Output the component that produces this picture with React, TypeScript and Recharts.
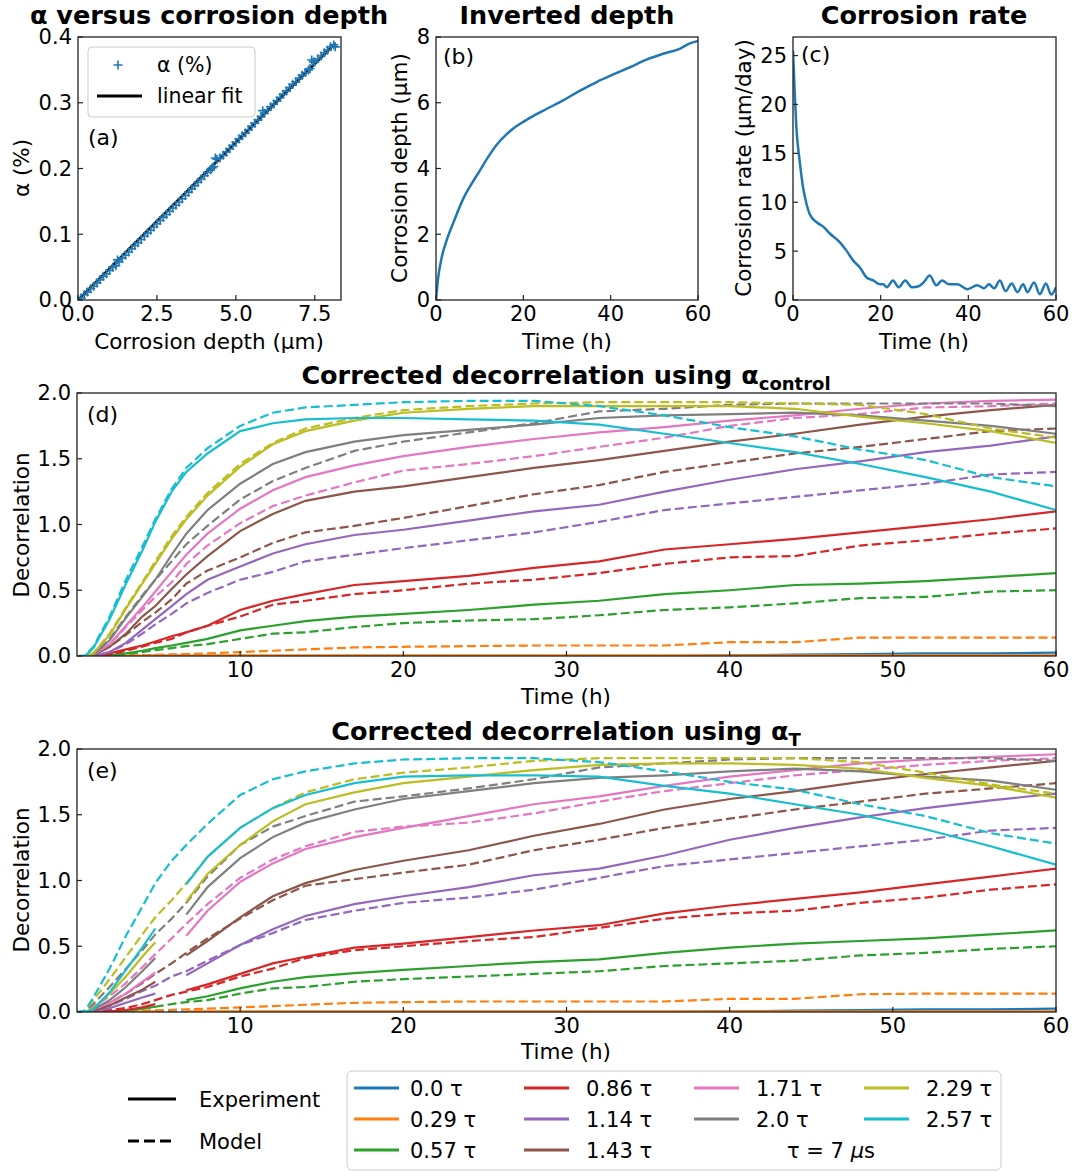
import React from "react";
import { ComposedChart, LineChart, Line, Scatter, XAxis, YAxis } from "recharts";

const FONT = '"DejaVu Sans", sans-serif';
const BLUE = "#1f77b4";
const FRAME = "#222";

const tauColors = ["#1f77b4", "#ff7f0e", "#2ca02c", "#d62728", "#9467bd", "#8c564b", "#e377c2", "#7f7f7f", "#bcbd22", "#17becf"];
const tauLabels = ["0.0 τ", "0.29 τ", "0.57 τ", "0.86 τ", "1.14 τ", "1.43 τ", "1.71 τ", "2.0 τ", "2.29 τ", "2.57 τ"];

// (a) alpha vs corrosion depth
const alphaDepth = [
  0.0, 0.1, 0.2, 0.3, 0.4, 0.5, 0.6, 0.7, 0.8, 0.9,
  1.0, 1.1, 1.2, 1.25, 1.3, 1.4, 1.5, 1.6, 1.7, 1.8,
  1.9, 2.0, 2.1, 2.2, 2.3, 2.4, 2.5, 2.6, 2.7, 2.8,
  2.9, 3.0, 3.1, 3.2, 3.3, 3.4, 3.5, 3.6, 3.7, 3.8,
  3.9, 4.0, 4.1, 4.2, 4.25, 4.3, 4.35, 4.4, 4.5, 4.6,
  4.7, 4.8, 4.9, 5.0, 5.1, 5.2, 5.3, 5.4, 5.5, 5.6,
  5.7, 5.8, 5.85, 5.9, 6.0, 6.1, 6.2, 6.3, 6.4, 6.5,
  6.6, 6.7, 6.8, 6.9, 7.0, 7.1, 7.2, 7.3, 7.35, 7.4,
  7.45, 7.5, 7.6, 7.7, 7.8, 7.9, 8.0, 8.1, 8.15,
];
const alphaPct = [
  0.0, 0.003, 0.008, 0.012, 0.017, 0.021, 0.026, 0.031, 0.036, 0.04,
  0.045, 0.05, 0.052, 0.061, 0.058, 0.064, 0.068, 0.073, 0.078, 0.083,
  0.087, 0.092, 0.097, 0.102, 0.106, 0.111, 0.116, 0.121, 0.126, 0.13,
  0.135, 0.14, 0.144, 0.149, 0.154, 0.159, 0.164, 0.169, 0.174, 0.179,
  0.184, 0.189, 0.194, 0.198, 0.201, 0.203, 0.216, 0.214, 0.216, 0.22,
  0.225, 0.23, 0.235, 0.24, 0.245, 0.25, 0.254, 0.259, 0.264, 0.269,
  0.274, 0.279, 0.288, 0.284, 0.289, 0.294, 0.298, 0.303, 0.308, 0.313,
  0.318, 0.323, 0.328, 0.332, 0.337, 0.342, 0.346, 0.35, 0.352, 0.365,
  0.362, 0.362, 0.367, 0.371, 0.376, 0.38, 0.385, 0.388, 0.385,
];
const fitDepth = [0, 8.14];
const fitAlpha = [0, 0.39];

// (b) inverted depth
const depthTime = [0, 0.5, 1.3, 2.4, 4, 6.3, 8, 10, 12, 13.9, 16, 17.7, 20, 21.5, 25.3, 29.1, 33, 36.8, 40.6, 44.4, 48.2, 52, 55.8, 58, 60];
const depthUm = [0, 0.68, 1.29, 1.8, 2.36, 3.1, 3.5, 3.93, 4.36, 4.72, 5.02, 5.22, 5.42, 5.54, 5.81, 6.07, 6.37, 6.63, 6.86, 7.08, 7.31, 7.49, 7.64, 7.8, 7.88];

// (c) corrosion rate
const rateTime = [0, 0.4, 0.76, 1.5, 2.3, 3.1, 3.8, 5.4, 6.9, 8.4, 10.7, 12.2, 13.8, 15.3, 16.8, 18.3, 19.9, 20.6, 21.4, 22.8, 24.1, 25.6, 27.1, 28.7, 29.8, 31.2, 32.7, 34, 35.6, 37.5, 39.8, 42, 43.6, 44.7, 45.9, 47.2, 48.5, 49.9, 51.2, 52.5, 53.5, 55, 56.3, 57.7, 58.9, 60];
const rateUmDay = [25.5, 21.1, 17.7, 14.3, 11.5, 9.8, 8.8, 7.95, 7.5, 6.8, 5.9, 5.05, 4.0, 3.3, 2.3, 2.0, 1.6, 1.6, 1.3, 2.0, 1.3, 2.0, 1.3, 1.4, 1.8, 2.5, 1.5, 2.0, 1.6, 1.6, 1.1, 1.5, 1.2, 1.6, 1.2, 2.0, 0.9, 1.7, 0.8, 1.6, 0.8, 1.8, 0.6, 1.7, 0.55, 1.3];

// (d)/(e) decorrelation, one array per tau (order of tauLabels)
const hours = [0, 0.5, 1, 2, 3, 4, 4.8, 5.8, 6.7, 8, 10, 12, 14, 17, 20, 24, 28, 32, 36, 40, 44, 48, 52, 56, 60];

const ctrlExp = [
  [0, 0, 0, 0, 0, 0, 0, 0, 0, 0, 0, 0, 0, 0, 0, 0, 0, 0, 0, 0.005, 0.01, 0.015, 0.02, 0.02, 0.025],
  [0, 0, 0, 0.002, 0.003, 0.003, 0.004, 0.004, 0.004, 0.004, 0.004, 0.004, 0.004, 0.004, 0.004, 0.004, 0.004, 0.004, 0.004, 0.004, 0.004, 0.004, 0.004, 0.004, 0.004],
  [0, 0, 0, 0.005, 0.02, 0.04, 0.06, 0.08, 0.1, 0.13, 0.195, 0.23, 0.265, 0.3, 0.32, 0.35, 0.39, 0.42, 0.47, 0.5, 0.54, 0.55, 0.57, 0.6, 0.63],
  [0, 0, 0, 0.02, 0.05, 0.08, 0.11, 0.15, 0.18, 0.23, 0.35, 0.42, 0.47, 0.54, 0.57, 0.61, 0.67, 0.72, 0.81, 0.85, 0.89, 0.94, 0.99, 1.04, 1.1],
  [0, 0, 0, 0.03, 0.1, 0.2, 0.28, 0.38, 0.47, 0.58, 0.68, 0.78, 0.85, 0.92, 0.96, 1.03, 1.1, 1.15, 1.25, 1.34, 1.42, 1.48, 1.55, 1.6, 1.67],
  [0, 0, 0.005, 0.07, 0.17, 0.3, 0.38, 0.51, 0.62, 0.76, 0.95, 1.08, 1.18, 1.25, 1.29, 1.36, 1.43, 1.49, 1.56, 1.63, 1.69, 1.76, 1.82, 1.87, 1.91],
  [0, 0, 0.01, 0.09, 0.23, 0.37, 0.49, 0.64, 0.77, 0.93, 1.12, 1.26, 1.36, 1.45, 1.52, 1.59, 1.65, 1.7, 1.74, 1.79, 1.83, 1.88, 1.92, 1.94, 1.95],
  [0, 0, 0.01, 0.12, 0.29, 0.45, 0.58, 0.77, 0.93, 1.11, 1.31, 1.46, 1.55, 1.63, 1.68, 1.72, 1.76, 1.81, 1.83, 1.84, 1.85, 1.83, 1.79, 1.75, 1.69],
  [0, 0, 0.02, 0.16, 0.36, 0.55, 0.7, 0.89, 1.04, 1.22, 1.44, 1.61, 1.71, 1.79, 1.85, 1.88, 1.9, 1.9, 1.9, 1.9, 1.88, 1.82, 1.77, 1.71, 1.62],
  [0, 0, 0.06, 0.28, 0.55, 0.8, 1.02, 1.25, 1.4, 1.54, 1.71, 1.77, 1.8, 1.81, 1.81, 1.8, 1.79, 1.76, 1.69, 1.62, 1.55, 1.46, 1.36, 1.25, 1.11],
];

const ctrlModel = [
  [0, 0, 0, 0, 0, 0, 0, 0, 0, 0, 0, 0, 0, 0, 0, 0, 0, 0, 0, 0, 0, 0, 0, 0, 0],
  [0, 0, 0, 0, 0.003, 0.005, 0.008, 0.012, 0.015, 0.02, 0.03, 0.04, 0.05, 0.065, 0.07, 0.075, 0.08, 0.08, 0.08, 0.105, 0.105, 0.14, 0.14, 0.14, 0.14],
  [0, 0, 0, 0.005, 0.015, 0.03, 0.045, 0.06, 0.075, 0.09, 0.13, 0.17, 0.18, 0.22, 0.25, 0.27, 0.28, 0.31, 0.35, 0.37, 0.4, 0.44, 0.45, 0.49, 0.5],
  [0, 0, 0, 0.01, 0.04, 0.07, 0.1, 0.13, 0.18, 0.23, 0.3, 0.39, 0.42, 0.47, 0.5, 0.55, 0.58, 0.63, 0.7, 0.75, 0.76, 0.84, 0.88, 0.93, 0.97],
  [0, 0, 0, 0.03, 0.09, 0.17, 0.24, 0.32, 0.4, 0.48, 0.58, 0.64, 0.72, 0.77, 0.82, 0.88, 0.94, 1.02, 1.11, 1.16, 1.21, 1.26, 1.31, 1.38, 1.4],
  [0, 0, 0.005, 0.07, 0.16, 0.26, 0.33, 0.43, 0.55, 0.65, 0.75, 0.86, 0.94, 0.99, 1.05, 1.14, 1.23, 1.3, 1.4, 1.47, 1.54, 1.59, 1.65, 1.71, 1.73],
  [0, 0, 0.01, 0.09, 0.22, 0.35, 0.45, 0.56, 0.7, 0.84, 1.01, 1.14, 1.22, 1.32, 1.41, 1.46, 1.52, 1.59, 1.66, 1.75, 1.81, 1.84, 1.89, 1.9, 1.92],
  [0, 0, 0.01, 0.13, 0.3, 0.46, 0.58, 0.72, 0.85, 0.99, 1.19, 1.33, 1.43, 1.56, 1.63, 1.7, 1.77, 1.86, 1.88, 1.91, 1.92, 1.92, 1.92, 1.92, 1.9],
  [0, 0, 0.02, 0.17, 0.37, 0.56, 0.72, 0.91, 1.06, 1.24, 1.46, 1.62, 1.73, 1.81, 1.87, 1.9, 1.92, 1.93, 1.93, 1.93, 1.92, 1.91, 1.84, 1.73, 1.66],
  [0, 0.005, 0.07, 0.3, 0.58, 0.83, 1.04, 1.27, 1.43, 1.58, 1.75, 1.85, 1.89, 1.91, 1.93, 1.94, 1.94, 1.9, 1.83, 1.74, 1.67, 1.57, 1.49, 1.36, 1.29],
];

// experiment has a gap around 5.8 h when alpha_T is used
const alphaTExp = [
  [0, 0, 0, 0, 0, 0, 0, null, 0, 0, 0, 0, 0, 0, 0, 0, 0, 0, 0, 0.005, 0.01, 0.015, 0.02, 0.02, 0.025],
  [0, 0, 0, 0.002, 0.003, 0.003, 0.004, null, 0.004, 0.004, 0.004, 0.004, 0.004, 0.004, 0.004, 0.004, 0.004, 0.004, 0.004, 0.004, 0.004, 0.004, 0.004, 0.004, 0.004],
  [0, 0, 0, 0.003, 0.01, 0.025, 0.04, null, 0.09, 0.12, 0.18, 0.23, 0.265, 0.295, 0.32, 0.35, 0.38, 0.4, 0.45, 0.49, 0.52, 0.54, 0.56, 0.59, 0.62],
  [0, 0, 0, 0.005, 0.015, 0.035, 0.06, null, 0.165, 0.21, 0.29, 0.37, 0.42, 0.49, 0.52, 0.57, 0.62, 0.66, 0.75, 0.81, 0.86, 0.91, 0.97, 1.03, 1.09],
  [0, 0, 0.01, 0.03, 0.07, 0.11, 0.14, null, 0.28, 0.37, 0.51, 0.63, 0.73, 0.82, 0.88, 0.95, 1.04, 1.09, 1.19, 1.31, 1.4, 1.48, 1.55, 1.61, 1.66],
  [0, 0, 0.01, 0.05, 0.11, 0.17, 0.23, null, 0.43, 0.54, 0.72, 0.88, 0.98, 1.08, 1.15, 1.23, 1.34, 1.43, 1.54, 1.62, 1.68, 1.75, 1.81, 1.86, 1.91],
  [0, 0, 0.02, 0.07, 0.14, 0.23, 0.3, null, 0.58, 0.77, 0.99, 1.13, 1.24, 1.33, 1.4, 1.49, 1.58, 1.64, 1.72, 1.79, 1.84, 1.89, 1.92, 1.94, 1.96],
  [0, 0, 0.02, 0.09, 0.19, 0.31, 0.41, null, 0.74, 0.95, 1.17, 1.33, 1.44, 1.54, 1.62, 1.68, 1.74, 1.78, 1.8, 1.83, 1.85, 1.83, 1.79, 1.76, 1.69],
  [0, 0, 0.03, 0.14, 0.27, 0.42, 0.53, null, 0.84, 1.05, 1.27, 1.45, 1.58, 1.67, 1.74, 1.79, 1.84, 1.88, 1.89, 1.89, 1.88, 1.85, 1.78, 1.72, 1.63],
  [0, 0, 0.02, 0.15, 0.32, 0.49, 0.635, null, 0.97, 1.18, 1.4, 1.55, 1.65, 1.74, 1.79, 1.8, 1.8, 1.79, 1.72, 1.66, 1.58, 1.5, 1.39, 1.26, 1.12],
];

const alphaTModel = [
  [0, 0, 0, 0, 0, 0, 0, 0, 0, 0, 0, 0, 0, 0, 0, 0, 0, 0, 0, 0, 0, 0, 0, 0, 0],
  [0, 0, 0.002, 0.005, 0.008, 0.01, 0.013, 0.016, 0.02, 0.025, 0.035, 0.045, 0.055, 0.07, 0.075, 0.08, 0.08, 0.08, 0.08, 0.1, 0.1, 0.135, 0.14, 0.14, 0.14],
  [0, 0, 0, 0.005, 0.015, 0.03, 0.04, 0.06, 0.075, 0.09, 0.14, 0.18, 0.19, 0.23, 0.25, 0.27, 0.29, 0.31, 0.35, 0.37, 0.39, 0.43, 0.45, 0.48, 0.5],
  [0, 0, 0.003, 0.015, 0.03, 0.06, 0.09, 0.13, 0.155, 0.19, 0.27, 0.33, 0.41, 0.47, 0.5, 0.54, 0.57, 0.64, 0.71, 0.75, 0.77, 0.83, 0.87, 0.93, 0.97],
  [0, 0, 0.01, 0.05, 0.1, 0.16, 0.2, 0.27, 0.31, 0.39, 0.51, 0.6, 0.7, 0.77, 0.83, 0.87, 0.93, 1.02, 1.11, 1.16, 1.21, 1.26, 1.31, 1.38, 1.4],
  [0, 0, 0.02, 0.07, 0.14, 0.22, 0.29, 0.37, 0.45, 0.56, 0.71, 0.85, 0.96, 1.01, 1.06, 1.12, 1.23, 1.31, 1.4, 1.47, 1.54, 1.6, 1.66, 1.7, 1.74],
  [0, 0, 0.04, 0.12, 0.22, 0.34, 0.44, 0.56, 0.67, 0.82, 1.02, 1.16, 1.26, 1.37, 1.41, 1.44, 1.51, 1.6, 1.68, 1.74, 1.8, 1.84, 1.88, 1.91, 1.93],
  [0, 0.005, 0.06, 0.19, 0.33, 0.47, 0.59, 0.71, 0.83, 1.03, 1.27, 1.41, 1.49, 1.6, 1.64, 1.7, 1.77, 1.86, 1.89, 1.92, 1.93, 1.93, 1.93, 1.93, 1.91],
  [0, 0.01, 0.09, 0.25, 0.42, 0.59, 0.72, 0.85, 0.98, 1.18, 1.4, 1.55, 1.67, 1.77, 1.82, 1.86, 1.91, 1.93, 1.93, 1.93, 1.93, 1.9, 1.82, 1.73, 1.66],
  [0, 0.01, 0.11, 0.33, 0.58, 0.8, 0.98, 1.15, 1.27, 1.43, 1.65, 1.77, 1.83, 1.89, 1.92, 1.93, 1.93, 1.9, 1.83, 1.75, 1.69, 1.58, 1.49, 1.36, 1.28],
];

// plot boxes (page pixels)
const boxA = { x: 78, y: 37, w: 263, h: 263 };
const boxB = { x: 436, y: 37, w: 262, h: 263 };
const boxC = { x: 793, y: 37, w: 263, h: 263 };
const boxD = { x: 77, y: 393, w: 979, h: 263 };
const boxE = { x: 77, y: 749, w: 979, h: 263 };

const tickStyle = { fill: "#000", fontSize: 21, fontFamily: FONT };
const tickLineStyle = { stroke: FRAME, strokeWidth: 1.2 };
const margin = { top: 20, right: 20, bottom: 0, left: 0 };

const alphaRows = alphaDepth.map((d, i) => ({ d, a: alphaPct[i] }));
const fitRows = fitDepth.map((d, i) => ({ d, a: fitAlpha[i] }));
const depthRows = depthTime.map((t, i) => ({ t, v: depthUm[i] }));
const rateRows = rateTime.map((t, i) => ({ t, v: rateUmDay[i] }));

function decorRows(exp: (number | null)[][], model: number[][]) {
  return hours.map((t, i) => {
    const row: Record<string, number | null> = { t };
    exp.forEach((s, k) => { row[`e${k}`] = s[i]; });
    model.forEach((s, k) => { row[`m${k}`] = s[i]; });
    return row;
  });
}
const ctrlRows = decorRows(ctrlExp, ctrlModel);
const alphaTRows = decorRows(alphaTExp, alphaTModel);

function xAxis(key: string, domain: number[], ticks: number[], fmt?: (v: number) => string) {
  return (
    <XAxis dataKey={key} type="number" domain={domain} ticks={ticks} interval={0} allowDataOverflow
      height={50} axisLine={false} tickSize={-5} tickMargin={11} tick={tickStyle} tickLine={tickLineStyle}
      tickFormatter={fmt} />
  );
}

function yAxis(domain: number[], ticks: number[], fmt?: (v: number) => string, key?: string) {
  return (
    <YAxis dataKey={key} type="number" domain={domain} ticks={ticks} interval={0} allowDataOverflow
      width={80} axisLine={false} tickSize={-5} tickMargin={11} tick={tickStyle} tickLine={tickLineStyle}
      tickFormatter={fmt} />
  );
}

const f1 = (v: number) => v.toFixed(1);

type Box = { x: number; y: number; w: number; h: number };

function Placed({ box, children }: { box: Box; children: React.ReactNode }) {
  return (
    <div style={{ position: "absolute", left: box.x - 80, top: box.y - 20 }}>
      {children}
    </div>
  );
}

const chartSize = (b: Box) => ({ width: b.w + 100, height: b.h + 70 });

const plusShape = (p: any) => (
  <path d={`M${p.cx - 4.5},${p.cy}h9M${p.cx},${p.cy - 4.5}v9`} stroke={BLUE} strokeWidth={1.6} fill="none" />
);

function DecorPanel({ box, rows }: { box: Box; rows: Record<string, number | null>[] }) {
  return (
    <Placed box={box}>
      <LineChart {...chartSize(box)} data={rows} margin={margin}>
        {xAxis("t", [0, 60], [10, 20, 30, 40, 50, 60])}
        {yAxis([0, 2], [0, 0.5, 1, 1.5, 2], f1)}
        {tauColors.flatMap((c, k) => [
          <Line key={`e${k}`} dataKey={`e${k}`} type="linear" stroke={c} strokeWidth={2.2}
            dot={false} activeDot={false} isAnimationActive={false} connectNulls={false} />,
          <Line key={`m${k}`} dataKey={`m${k}`} type="linear" stroke={c} strokeWidth={2.2}
            strokeDasharray="9 4" dot={false} activeDot={false} isAnimationActive={false} />,
        ])}
      </LineChart>
    </Placed>
  );
}

function Overlay() {
  const frames = [boxA, boxB, boxC, boxD, boxE];
  const cols = [
    { hx: 354, tx: 410 },
    { hx: 524, tx: 586 },
    { hx: 694, tx: 756 },
    { hx: 864, tx: 926 },
  ];
  const rowsY = [1088, 1119, 1150];
  const slots = [[0, 0], [0, 1], [0, 2], [1, 0], [1, 1], [1, 2], [2, 0], [2, 1], [3, 0], [3, 1]];
  const title = { fontFamily: FONT, fontWeight: 700, fontSize: 25.5, fill: "#000", textAnchor: "middle" as const };
  const label = { fontFamily: FONT, fontSize: 21.5, fill: "#000", textAnchor: "middle" as const };
  const letter = { fontFamily: FONT, fontSize: 22, fill: "#000" };
  const leg = { fontFamily: FONT, fontSize: 21, fill: "#000" };
  return (
    <svg width={1075} height={1172} style={{ position: "absolute", left: 0, top: 0, pointerEvents: "none" }}>
      {frames.map((b, i) => (
        <rect key={i} x={b.x} y={b.y} width={b.w} height={b.h} fill="none" stroke={FRAME} strokeWidth={1.3} />
      ))}

      <text x={209} y={24} {...title}>α versus corrosion depth</text>
      <text x={567} y={24} {...title}>Inverted depth</text>
      <text x={924} y={24} {...title}>Corrosion rate</text>
      <text x={566} y={384} {...title}>
        Corrected decorrelation using α<tspan fontSize={18} dy={6}>control</tspan>
      </text>
      <text x={566} y={740} {...title}>
        Corrected decorrelation using α<tspan fontSize={18} dy={6}>T</tspan>
      </text>

      <text x={209} y={349} {...label}>Corrosion depth (μm)</text>
      <text x={567} y={349} {...label}>Time (h)</text>
      <text x={924} y={349} {...label}>Time (h)</text>
      <text x={566} y={704} {...label}>Time (h)</text>
      <text x={566} y={1059} {...label}>Time (h)</text>
      <text transform="translate(29,168) rotate(-90)" {...label}>α (%)</text>
      <text transform="translate(407,168) rotate(-90)" {...label}>Corrosion depth (μm)</text>
      <text transform="translate(751,168) rotate(-90)" {...label}>Corrosion rate (μm/day)</text>
      <text transform="translate(29,525) rotate(-90)" {...label}>Decorrelation</text>
      <text transform="translate(29,880) rotate(-90)" {...label}>Decorrelation</text>

      <text x={88} y={145} {...letter}>(a)</text>
      <text x={443} y={64} {...letter}>(b)</text>
      <text x={801} y={62} {...letter}>(c)</text>
      <text x={87} y={422} {...letter}>(d)</text>
      <text x={87} y={778} {...letter}>(e)</text>

      {/* legend of (a) */}
      <rect x={88} y={47} width={167} height={70} rx={4} fill="#fff" fillOpacity={0.8} stroke="#ccc" />
      <path d="M113.5,65h9M118,60.5v9" stroke={BLUE} strokeWidth={1.6} />
      <text x={157} y={72} {...leg} fontSize={20.5}>α (%)</text>
      <line x1={97} x2={142} y1={96} y2={96} stroke="#000" strokeWidth={3} />
      <text x={157} y={103} {...leg} fontSize={20.5}>linear fit</text>

      {/* line style legend */}
      <line x1={128} x2={176} y1={1099} y2={1099} stroke="#000" strokeWidth={3} />
      <text x={199} y={1107} {...leg}>Experiment</text>
      <line x1={128} x2={176} y1={1141} y2={1141} stroke="#000" strokeWidth={3} strokeDasharray="11 5" />
      <text x={199} y={1149} {...leg}>Model</text>

      {/* tau legend */}
      <rect x={347} y={1071} width={654} height={99} rx={5} fill="#fff" stroke="#ccc" />
      {tauLabels.map((lab, k) => {
        const [c, r] = slots[k];
        const y = rowsY[r];
        return (
          <g key={lab}>
            <line x1={cols[c].hx} x2={cols[c].hx + 45} y1={y} y2={y} stroke={tauColors[k]} strokeWidth={3} />
            <text x={cols[c].tx} y={y + 8} {...leg}>{lab}</text>
          </g>
        );
      })}
      <text x={787} y={1158} {...leg}>τ = 7 <tspan fontStyle="italic">μ</tspan>s</text>
    </svg>
  );
}

export default function App() {
  return (
    <div style={{ position: "absolute", left: 0, top: 0, width: 1075, height: 1172, background: "#fff", overflow: "hidden" }}>
      <Placed box={boxA}>
        <ComposedChart {...chartSize(boxA)} margin={margin}>
          {xAxis("d", [0, 8.33], [0, 2.5, 5, 7.5], f1)}
          {yAxis([0, 0.4], [0, 0.1, 0.2, 0.3, 0.4], f1, "a")}
          <Scatter data={alphaRows} dataKey="a" shape={plusShape} isAnimationActive={false} />
          <Line data={fitRows} dataKey="a" type="linear" stroke="#000" strokeWidth={2.6}
            dot={false} activeDot={false} isAnimationActive={false} />
        </ComposedChart>
      </Placed>

      <Placed box={boxB}>
        <LineChart {...chartSize(boxB)} data={depthRows} margin={margin}>
          {xAxis("t", [0, 60], [0, 20, 40, 60])}
          {yAxis([0, 8], [0, 2, 4, 6, 8])}
          <Line dataKey="v" type="monotone" stroke={BLUE} strokeWidth={2.5} dot={false} activeDot={false} isAnimationActive={false} />
        </LineChart>
      </Placed>

      <Placed box={boxC}>
        <LineChart {...chartSize(boxC)} data={rateRows} margin={margin}>
          {xAxis("t", [0, 60], [0, 20, 40, 60])}
          {yAxis([0, 26.9], [0, 5, 10, 15, 20, 25])}
          <Line dataKey="v" type="monotone" stroke={BLUE} strokeWidth={2.5} dot={false} activeDot={false} isAnimationActive={false} />
        </LineChart>
      </Placed>

      <DecorPanel box={boxD} rows={ctrlRows} />
      <DecorPanel box={boxE} rows={alphaTRows} />

      <Overlay />
    </div>
  );
}
